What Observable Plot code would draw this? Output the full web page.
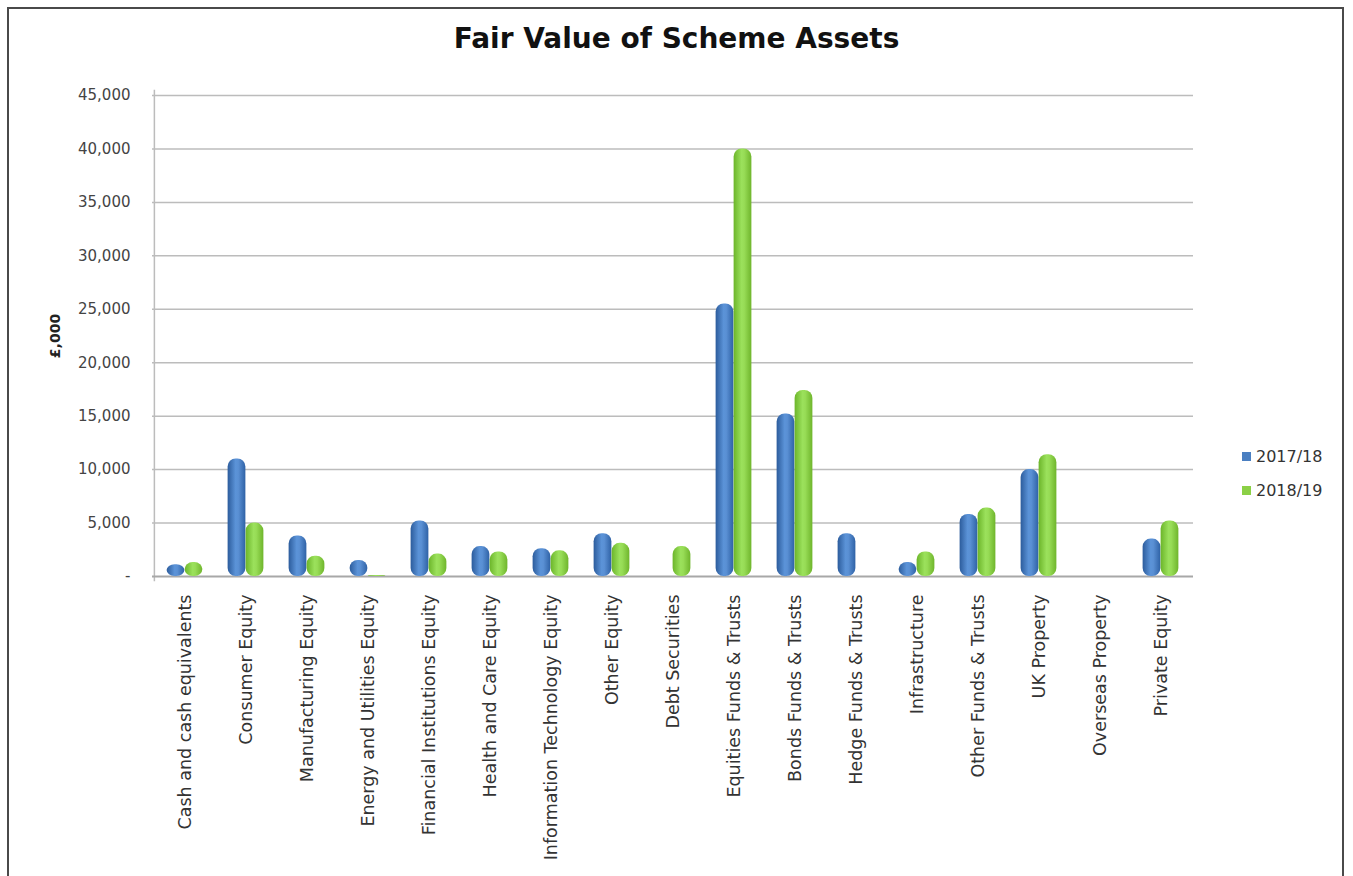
<!DOCTYPE html>
<html>
<head>
<meta charset="utf-8">
<script src="https://cdn.jsdelivr.net/npm/d3@7"></script>
<script src="https://cdn.jsdelivr.net/npm/@observablehq/plot@0.6"></script>
<style>
  body { margin: 0; background: #fff; font-family: "DejaVu Sans", sans-serif; }
  #wrap { position: relative; width: 1353px; height: 876px; overflow: hidden; }
  #frame { position: absolute; left: 7px; top: 7px; width: 1337px; height: 900px; border: 2px solid #4a4a4a; box-sizing: border-box; }
  #title { position: absolute; left: 0; width: 1353px; top: 22px; text-align: center; font-weight: bold; font-size: 28px; color: #111; }
  #chart { position: absolute; left: 0; top: 0; }
  #legend { position: absolute; left: 1242px; top: 439px; font-size: 16px; color: #333; }
  #legend div { height: 34px; display: flex; align-items: center; }
  #legend span.sw { display: inline-block; width: 9px; height: 9px; margin-right: 5px; }
  .xax text { font-size: 17.5px; }
  .yax text { font-size: 15px; }
</style>
</head>
<body>
<div id="wrap">
  <div id="frame"></div>
  <div id="chart"></div>
  <div id="title">Fair Value of Scheme Assets</div>
  <div id="legend"></div>
</div>
<script>
const categories = [
  "Cash and cash equivalents", "Consumer Equity", "Manufacturing Equity",
  "Energy and Utilities Equity", "Financial Institutions Equity", "Health and Care Equity",
  "Information Technology Equity", "Other Equity", "Debt Securities",
  "Equities Funds & Trusts", "Bonds Funds & Trusts", "Hedge Funds & Trusts",
  "Infrastructure", "Other Funds & Trusts", "UK Property", "Overseas Property", "Private Equity"
];
const series = ["2017/18", "2018/19"];
const values2017 = [1100, 11000, 3800, 1500, 5200, 2800, 2600, 4000, 0, 25500, 15200, 4000, 1300, 5800, 10000, 0, 3500];
const values2018 = [1300, 5000, 1900, 100, 2100, 2300, 2400, 3100, 2800, 40000, 17400, 0, 2300, 6400, 11400, 0, 5200];
const yTicks = [0, 5000, 10000, 15000, 20000, 25000, 30000, 35000, 40000, 45000];
const seriesColors = ["#4a7fc1", "#8bd046"];

const d17 = categories.map((c, i) => ({category: c, value: values2017[i]}));
const d18 = categories.map((c, i) => ({category: c, value: values2018[i]}));

const W = 1353, H = 876, mL = 152, mR = 160;
const bw = (W - mL - mR) / categories.length;
const barW = 18;
const inner = bw / 2 - barW;
const fmt = d => d === 0 ? "-" : d3.format(",")(d);

const plot = Plot.plot({
  width: W, height: H,
  marginLeft: mL, marginRight: mR, marginTop: 95, marginBottom: 300,
  style: { fontFamily: "DejaVu Sans, sans-serif", fontSize: "14px", color: "#333", background: "transparent" },
  x: { domain: categories, padding: 0, label: null, axis: null },
  y: { domain: [0, 45000], label: null, axis: null },
  marks: [
    Plot.ruleY(yTicks.slice(1), { stroke: "#bcbcbc", strokeWidth: 1.5 }),
    Plot.ruleX([categories[0]], { x: () => categories[0], dx: -bw / 2, y1: -500, y2: 45500, stroke: "#bcbcbc", strokeWidth: 1.5 }),
    Plot.ruleY([0], { stroke: "#a8a8a8", strokeWidth: 2 }),
    Plot.barY(d17, { x: "category", y: "value", fill: "url(#gBlue)", insetLeft: inner, insetRight: bw / 2, rx: 8 }),
    Plot.barY(d18, { x: "category", y: "value", fill: "url(#gGreen)", insetLeft: bw / 2, insetRight: inner, rx: 8 }),
    Plot.axisX({ className: "xax", tickSize: 0, tickPadding: 18, tickRotate: -90, label: null, fill: "#333" }),
    Plot.axisY({ className: "yax", ticks: yTicks, tickFormat: fmt, tickSize: 0, tickPadding: 22, label: null, fill: "#444" }),
    Plot.text(["£,000"], { frameAnchor: "left", dx: -97, rotate: -90, textAnchor: "middle", fontWeight: "bold", fontSize: 14, fill: "#222" })
  ]
});

// gradients for the cylinder look
const svg = d3.select(plot);
const defs = svg.insert("defs", ":first-child");
function grad(id, stops) {
  const g = defs.append("linearGradient").attr("id", id).attr("x1", "0").attr("x2", "1").attr("y1", "0").attr("y2", "0");
  stops.forEach(([o, c]) => g.append("stop").attr("offset", o).attr("stop-color", c));
}
grad("gBlue", [[0, "#2c5c9c"], [0.45, "#5b93d8"], [0.6, "#5a90d4"], [1, "#2f62a6"]]);
grad("gGreen", [[0, "#6cb52a"], [0.45, "#9be15c"], [0.6, "#97dc56"], [1, "#6fb52c"]]);

document.getElementById("chart").appendChild(plot);

const legend = document.getElementById("legend");
series.forEach((s, i) => {
  const row = document.createElement("div");
  row.innerHTML = `<span class="sw" style="background:${seriesColors[i]}"></span>${s}`;
  legend.appendChild(row);
});
</script>
</body>
</html>
